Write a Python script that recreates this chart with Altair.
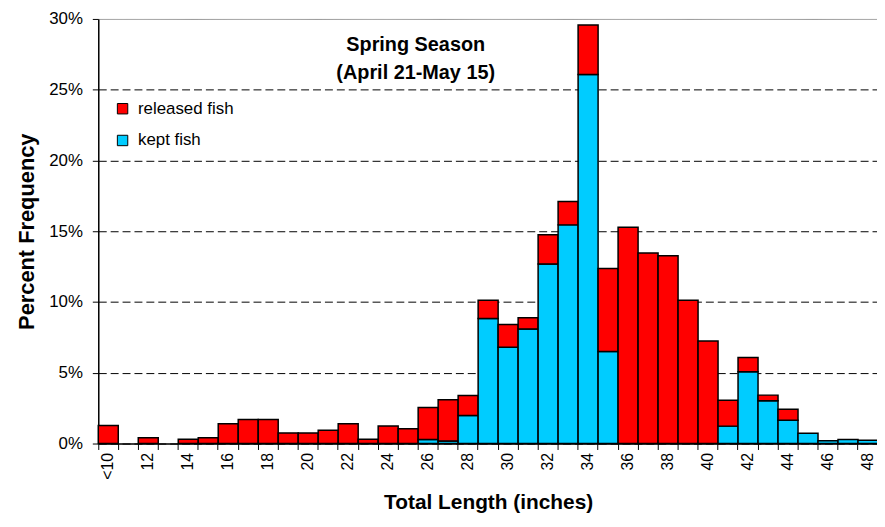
import altair as alt
import pandas as pd

cats = ["<10"] + [str(i) for i in range(11, 49)]
kept = [0, 0, 0, 0, 0, 0, 0, 0, 0, 0, 0, 0, 0, 0, 0, 0,
        0.28, 0.18, 1.98, 8.83, 6.80, 8.10, 12.68, 15.45, 26.07, 6.50,
        0, 0, 0, 0, 0,
        1.23, 5.08, 3.03, 1.64, 0.73, 0.19, 0.28, 0.24]
released = [1.27, 0, 0.41, 0, 0.30, 0.41, 1.39, 1.69, 1.69, 0.75, 0.75, 0.94, 1.39, 0.30, 1.24, 1.05,
            2.26, 2.91, 1.42, 1.30, 1.61, 0.78, 2.07, 1.65, 3.51, 5.86,
            15.28, 13.46, 13.27, 10.13, 7.24,
            1.83, 1.00, 0.39, 0.78, 0, 0, 0, 0]
groups = ["released fish", "kept fish"]
colors = ["#FF0000", "#00CCFF"]
title_lines = ["Spring Season", "(April 21-May 15)"]

rows = []
for c, k, r in zip(cats, kept, released):
    if k > 0:
        rows.append({"cat": c, "group": "kept fish", "value": k, "ord": 0})
    if r > 0:
        rows.append({"cat": c, "group": "released fish", "value": r, "ord": 1})
df = pd.DataFrame(rows)

FONT = "Arial, Liberation Sans, sans-serif"

bars = alt.Chart(df).mark_bar(stroke="black", strokeWidth=1.5).encode(
    x=alt.X("cat:N", sort=cats,
            scale=alt.Scale(domain=cats, paddingInner=0, paddingOuter=0),
            axis=alt.Axis(title="Total Length (inches)", bandPosition=0,
                          labelAngle=-90, labelOverlap=False,
                          labelExpr="(datum.value == '<10' || toNumber(datum.value) % 2 == 0) ? datum.label : ''",
                          labelFont=FONT, labelFontSize=16, labelColor="black", labelPadding=3,
                          tickColor="black", tickSize=6, domainColor="black", domainWidth=1.5,
                          titleFont=FONT, titleFontSize=21, titleFontWeight="bold", titleColor="black",
                          titlePadding=12, grid=False)),
    y=alt.Y("value:Q", stack="zero",
            scale=alt.Scale(domain=[0, 30], nice=False),
            axis=alt.Axis(title="Percent Frequency", values=[0, 5, 10, 15, 20, 25, 30],
                          labelExpr="datum.value + '%'",
                          labelFont=FONT, labelFontSize=17, labelColor="black", labelPadding=10,
                          tickColor="black", tickSize=6, domainColor="black", domainWidth=1.5,
                          titleFont=FONT, titleFontSize=22, titleFontWeight="bold", titleColor="black",
                          titlePadding=10,
                          grid=True,
                          gridColor={"condition": {"test": "datum.value == 30", "value": "#999999"}, "value": "black"},
                          gridDash={"condition": {"test": "datum.value == 30", "value": [1, 0]}, "value": [8, 4]},
                          gridWidth=1)),
    color=alt.Color("group:N", scale=alt.Scale(domain=groups, range=colors),
                    legend=alt.Legend(title=None, orient="none", legendX=16, legendY=82,
                                      symbolType="square", symbolSize=110,
                                      symbolStrokeColor="black", symbolStrokeWidth=1,
                                      labelFont=FONT, labelFontSize=17, labelColor="black",
                                      rowPadding=14, labelOffset=7)),
    order=alt.Order("ord:Q", sort="ascending"),
)

title = alt.Chart(pd.DataFrame({"t": [title_lines]})).mark_text(
    font=FONT, fontSize=20, fontWeight="bold", color="black", lineHeight=29, baseline="middle"
).encode(text="t", x=alt.value(320), y=alt.value(26))

chart = alt.layer(bars, title).properties(
    width=876, height=506,
    autosize=alt.AutoSizeParams(type="fit", contains="padding"),
    padding={"left": 7, "right": -2, "top": 0, "bottom": -1},
).configure_view(stroke=None).configure(background="white")

chart.save("out.html", embed_options={"renderer": "svg", "actions": False})
